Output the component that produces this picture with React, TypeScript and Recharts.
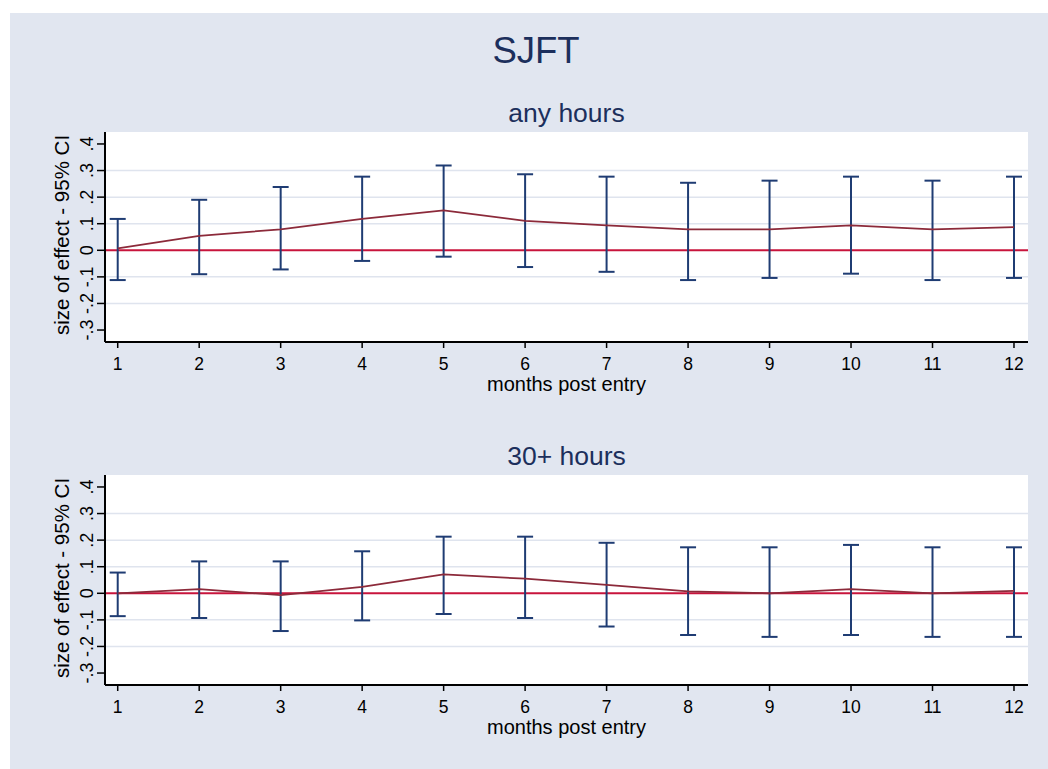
import React from "react";
import {
  LineChart,
  Line,
  XAxis,
  YAxis,
  ErrorBar,
  ReferenceLine,
  CartesianGrid,
  Label,
} from "recharts";

// ---- data ----
const months = [1, 2, 3, 4, 5, 6, 7, 8, 9, 10, 11, 12];

const anyEst = [0.007, 0.054, 0.079, 0.118, 0.15, 0.111, 0.094, 0.079, 0.079, 0.094, 0.079, 0.087];
const anyLo = [-0.112, -0.09, -0.072, -0.04, -0.024, -0.063, -0.081, -0.112, -0.104, -0.088, -0.112, -0.104];
const anyHi = [0.118, 0.19, 0.238, 0.277, 0.319, 0.286, 0.277, 0.254, 0.262, 0.277, 0.262, 0.277];

const h30Est = [0, 0.016, -0.007, 0.024, 0.071, 0.055, 0.032, 0.007, 0, 0.016, 0, 0.009];
const h30Lo = [-0.086, -0.093, -0.142, -0.102, -0.078, -0.093, -0.125, -0.157, -0.164, -0.157, -0.164, -0.164];
const h30Hi = [0.078, 0.12, 0.12, 0.158, 0.213, 0.213, 0.19, 0.173, 0.173, 0.182, 0.173, 0.173];

const yTickVals = [-0.3, -0.2, -0.1, 0, 0.1, 0.2, 0.3, 0.4];
const yTickLabels = ["-.3", "-.2", "-.1", "0", ".1", ".2", ".3", ".4"];
const gridVals = [-0.2, -0.1, 0.1, 0.2, 0.3];

const mainTitle = "SJFT";
const panelTitles = ["any hours", "30+ hours"];
const xTitle = "months post entry";
const yTitle = "size of effect - 95% CI";

// ---- styling / layout ----
const FONT = "'Liberation Sans', Arial, Helvetica, sans-serif";
const BG = "#e1e6f0";
const NAVY = "#1c2f5c";
const BAR = "#1f3c73";
const LINE = "#8c2a3a";
const ZERO = "#c8143c";
const GRID = "#dfe4ee";

const W = 1038;
const CH = 310;
const MARGIN = { top: 20, right: 20, bottom: 20, left: 5 };
const YW = 90;
const XH = 60;
const PLOT_LEFT = MARGIN.left + YW; // 95
const PLOT_TOP = MARGIN.top; // 20
const PLOT_BOTTOM = CH - MARGIN.bottom - XH; // 230
const PLOT_RIGHT = W - MARGIN.right;
const PLOT_CX = (PLOT_LEFT + PLOT_RIGHT) / 2;
const PLOT_CY = (PLOT_TOP + PLOT_BOTTOM) / 2;

function buildRows(est: number[], lo: number[], hi: number[]) {
  return months.map((m, i) => ({
    month: m,
    est: est[i],
    err: [est[i] - lo[i], hi[i] - est[i]],
  }));
}

const YTick = (props: any) => {
  const { y, payload } = props;
  const idx = yTickVals.findIndex((v) => Math.abs(v - payload.value) < 1e-9);
  const label = idx >= 0 ? yTickLabels[idx] : String(payload.value);
  return (
    <text
      transform={`translate(${PLOT_LEFT - 12},${y}) rotate(-90)`}
      textAnchor="middle"
      fontSize={18}
      fontFamily={FONT}
      fill="#000"
    >
      {label}
    </text>
  );
};

const XTick = (props: any) => {
  const { x, payload } = props;
  return (
    <text x={x} y={PLOT_BOTTOM + 28} textAnchor="middle" fontSize={17.5} fontFamily={FONT} fill="#000">
      {payload.value}
    </text>
  );
};

function Panel({ rows }: { rows: any[] }) {
  return (
    <LineChart width={W} height={CH} data={rows} margin={MARGIN}>
      <CartesianGrid fill="#ffffff" fillOpacity={1} horizontal={false} vertical={false} stroke="none" />
      {gridVals.map((g) => (
        <ReferenceLine key={g} y={g} stroke={GRID} strokeWidth={1.5} />
      ))}
      <XAxis
        dataKey="month"
        type="number"
        domain={[0.844, 12.172]}
        ticks={months}
        allowDataOverflow
        height={XH}
        tickSize={6}
        tick={<XTick />}
        axisLine={{ stroke: "#000", strokeWidth: 2 }}
        tickLine={{ stroke: "#000", strokeWidth: 1.5 }}
      >
        <Label
          content={() => (
            <text x={PLOT_CX} y={PLOT_BOTTOM + 49} textAnchor="middle" fontSize={20} fontFamily={FONT} fill="#000">
              {xTitle}
            </text>
          )}
        />
      </XAxis>
      <YAxis
        type="number"
        domain={[-0.345, 0.445]}
        ticks={yTickVals}
        allowDataOverflow
        width={YW}
        tickSize={8}
        tick={<YTick />}
        axisLine={{ stroke: "#000", strokeWidth: 2 }}
        tickLine={{ stroke: "#000", strokeWidth: 1.5 }}
      >
        <Label
          content={() => (
            <text
              transform={`translate(${PLOT_LEFT - 36},${PLOT_CY - 2}) rotate(-90)`}
              textAnchor="middle"
              fontSize={20.5}
              fontFamily={FONT}
              fill="#000"
            >
              {yTitle}
            </text>
          )}
        />
      </YAxis>
      <ReferenceLine y={0} stroke={ZERO} strokeWidth={2} />
      <Line
        dataKey="est"
        stroke={LINE}
        strokeWidth={1.8}
        dot={false}
        activeDot={false}
        isAnimationActive={false}
      >
        <ErrorBar dataKey="err" direction="y" width={8} stroke={BAR} strokeWidth={2} isAnimationActive={false} />
      </Line>
    </LineChart>
  );
}

export default function App() {
  const rowsAny = buildRows(anyEst, anyLo, anyHi);
  const rows30 = buildRows(h30Est, h30Lo, h30Hi);
  return (
    <div
      style={{
        position: "absolute",
        left: 10,
        top: 13,
        width: W,
        height: 756,
        background: BG,
        overflow: "hidden",
      }}
    >
      <svg width={W} height={756} style={{ position: "absolute", left: 0, top: 0 }}>
        <text x={526} y={50} textAnchor="middle" fontSize={36.5} fontFamily={FONT} fill={NAVY}>
          {mainTitle}
        </text>
        <text x={556.5} y={109} textAnchor="middle" fontSize={26.5} fontFamily={FONT} fill={NAVY}>
          {panelTitles[0]}
        </text>
        <text x={556.5} y={452} textAnchor="middle" fontSize={26.5} fontFamily={FONT} fill={NAVY}>
          {panelTitles[1]}
        </text>
      </svg>
      <div style={{ position: "absolute", left: 0, top: 99 }}>
        <Panel rows={rowsAny} />
      </div>
      <div style={{ position: "absolute", left: 0, top: 442 }}>
        <Panel rows={rows30} />
      </div>
    </div>
  );
}
